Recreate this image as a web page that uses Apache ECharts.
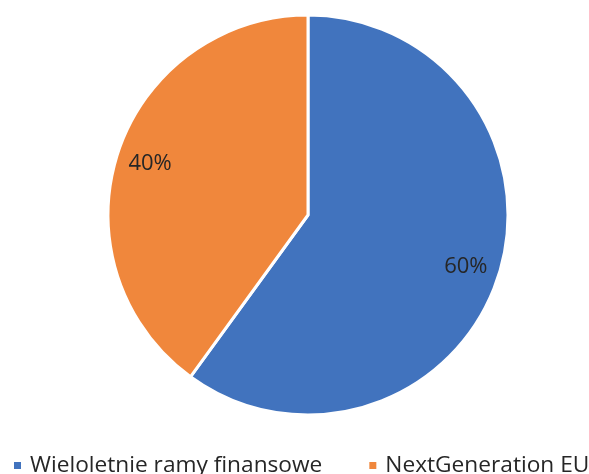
<!DOCTYPE html>
<html><head><meta charset="utf-8">
<script src="https://cdn.jsdelivr.net/npm/echarts@6/dist/echarts.min.js"></script>
<style>html,body{margin:0;padding:0;background:#fff}#c{width:589px;height:474px}</style>
</head><body><div id="c"></div>
<script>
const categories = ['Wieloletnie ramy finansowe', 'NextGeneration EU'];
const values = [60, 40];
const colors = ['#4173BE', '#F0873C'];
const data = categories.map((n, i) => ({ name: n, value: values[i], itemStyle: { color: colors[i] } }));
const chart = echarts.init(document.getElementById('c'));
chart.setOption({
  animation: false,
  legend: {
    left: 12, top: 454, width: 620, padding: 0, itemWidth: 9, itemHeight: 9, itemGap: 45, icon: 'rect',
    textStyle: { fontFamily: 'Open Sans', fontSize: 22.7, color: '#262626', padding: [0, 0, 0, 3] },
    data: categories
  },
  series: [{
    type: 'pie', center: [308, 215], radius: [0, 200], startAngle: 90, clockwise: true,
    label: { show: false }, labelLine: { show: false },
    itemStyle: { borderColor: '#fff', borderWidth: 3 },
    emphasis: { disabled: true },
    data: data
  }, {
    type: 'pie', center: [308, 215], radius: [126, 200], startAngle: 90, clockwise: true, silent: true,
    itemStyle: { color: 'transparent' },
    label: { show: true, position: 'inside', formatter: '{c}%', fontFamily: 'Open Sans', fontSize: 22, color: '#262626' },
    labelLine: { show: false },
    data: values.map((v, i) => ({ name: categories[i] + ' ', value: v }))
  }]
});
</script></body></html>
